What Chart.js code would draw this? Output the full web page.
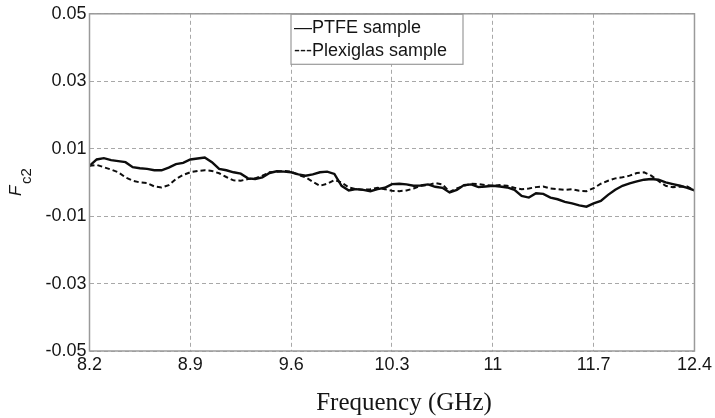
<!DOCTYPE html>
<html>
<head>
<meta charset="utf-8">
<script src="https://cdn.jsdelivr.net/npm/chart.js@4"></script>
<style>
  html, body { margin: 0; padding: 0; background: #fff; }
  #wrap { width: 715px; height: 418px; }
</style>
</head>
<body>
<div id="wrap"><canvas id="chartFc2"></canvas></div>
<script>
  'use strict';

  // frequency (GHz)
  var freq = [8.2, 8.25, 8.3, 8.35, 8.4, 8.45, 8.5, 8.55, 8.6, 8.65, 8.7, 8.75, 8.8, 8.85,
              8.9, 8.95, 9.0, 9.05, 9.1, 9.15, 9.2, 9.25, 9.3, 9.35, 9.4, 9.45, 9.5, 9.55,
              9.6, 9.65, 9.7, 9.75, 9.8, 9.85, 9.9, 9.95, 10.0, 10.05, 10.1, 10.15, 10.2,
              10.25, 10.3, 10.35, 10.4, 10.45, 10.5, 10.55, 10.6, 10.65, 10.7, 10.75, 10.8,
              10.85, 10.9, 10.95, 11.0, 11.05, 11.1, 11.15, 11.2, 11.25, 11.3, 11.35, 11.4,
              11.45, 11.5, 11.55, 11.6, 11.65, 11.7, 11.75, 11.8, 11.85, 11.9, 11.95, 12.0,
              12.05, 12.1, 12.15, 12.2, 12.25, 12.3, 12.35, 12.4];

  var ptfe = [0.0049, 0.0068, 0.0072, 0.0066, 0.0063, 0.0060, 0.0045, 0.0042, 0.0040,
              0.0036, 0.0036, 0.0044, 0.0054, 0.0058, 0.0068, 0.0071, 0.0074, 0.0060,
              0.0040, 0.0036, 0.0030, 0.0026, 0.0012, 0.0010, 0.0015, 0.0028, 0.0033,
              0.0032, 0.0030, 0.0024, 0.0020, 0.0024, 0.0030, 0.0032, 0.0025, -0.0010,
              -0.0024, -0.0020, -0.0022, -0.0026, -0.0020, -0.0016, -0.0005, -0.0004,
              -0.0006, -0.0010, -0.0009, -0.0006, -0.0013, -0.0016, -0.0030, -0.0022,
              -0.0008, -0.0006, -0.0014, -0.0012, -0.0010, -0.0012, -0.0015, -0.0022,
              -0.0040, -0.0045, -0.0032, -0.0034, -0.0045, -0.0050, -0.0058, -0.0062,
              -0.0068, -0.0072, -0.0062, -0.0055, -0.0037, -0.0022, -0.0010, -0.0003,
              0.0003, 0.0008, 0.0010, 0.0008, 0.0000, -0.0005, -0.0010, -0.0016, -0.0024];

  var plexiglas = [0.0049, 0.0052, 0.0045, 0.0038, 0.0030, 0.0015, 0.0005, 0.0000,
                   -0.0002, -0.0012, -0.0015, -0.0008, 0.0010, 0.0022, 0.0030, 0.0034,
                   0.0036, 0.0034, 0.0027, 0.0016, 0.0006, 0.0005, 0.0010, 0.0012, 0.0020,
                   0.0030, 0.0032, 0.0034, 0.0032, 0.0022, 0.0015, 0.0002, -0.0010,
                   -0.0004, 0.0007, 0.0000, -0.0015, -0.0020, -0.0022, -0.0020, -0.0016,
                   -0.0020, -0.0025, -0.0026, -0.0024, -0.0018, -0.0010, -0.0008, -0.0002,
                   -0.0006, -0.0028, -0.0018, -0.0010, -0.0004, -0.0005, -0.0008, -0.0010,
                   -0.0008, -0.0010, -0.0016, -0.0020, -0.0018, -0.0014, -0.0012, -0.0018,
                   -0.0020, -0.0022, -0.0020, -0.0025, -0.0026, -0.0017, -0.0004, 0.0005,
                   0.0012, 0.0015, 0.0020, 0.0028, 0.0030, 0.0020, 0.0004, -0.0010,
                   -0.0014, -0.0013, -0.0012, -0.0024];

  var xTicks = [8.2, 8.9, 9.6, 10.3, 11, 11.7, 12.4];
  var yTicks = [-0.05, -0.03, -0.01, 0.01, 0.03, 0.05];

  var seriesNames = ['PTFE sample', 'Plexiglas sample'];

  var colors = {
    line       : '#0d0d0d',
    grid       : '#a8a8a8',
    border     : '#9a9a9a',
    bodyColor  : '#151515'
  };
  var fontFamily = "'Liberation Sans', Arial, Helvetica, sans-serif";
  var serifFamily = "'Liberation Serif', 'Times New Roman', serif";

  function toPoints(ys) {
    return freq.map(function(f, i) { return { x: f, y: ys[i] }; });
  }

  function fmt(v) {
    return String(Math.round(v * 100) / 100);
  }

  // frame, legend box and axis titles
  var decor = {
    id: 'decor',
    afterDatasetsDraw: function(chart) {
      var ctx = chart.ctx, a = chart.chartArea;
      ctx.save();
      ctx.strokeStyle = colors.border;
      ctx.lineWidth = 1.5;
      ctx.setLineDash([]);
      ctx.strokeRect(a.left, a.top, a.right - a.left, a.bottom - a.top);

      // legend inside plot
      var lx = 291, ly = a.top + 0.5, lw = 172, lh = 50;
      ctx.fillStyle = '#fff';
      ctx.fillRect(lx, ly, lw, lh);
      ctx.lineWidth = 1.2;
      ctx.strokeRect(lx, ly, lw, lh);
      ctx.fillStyle = colors.bodyColor;
      ctx.font = '18px ' + fontFamily;
      ctx.textBaseline = 'middle';
      ctx.textAlign = 'left';
      ctx.fillText('\u2014' + seriesNames[0], lx + 3, ly + 14);
      ctx.fillText('---' + seriesNames[1], lx + 3, ly + 37);

      // x title
      ctx.font = '25px ' + serifFamily;
      ctx.textAlign = 'center';
      ctx.textBaseline = 'alphabetic';
      ctx.fillText('Frequency (GHz)', (a.left + a.right) / 2 + 12, 410);

      // y title F_c2
      ctx.translate(21, 196);
      ctx.rotate(-Math.PI / 2);
      ctx.textAlign = 'left';
      ctx.font = 'italic 17px ' + fontFamily;
      ctx.fillText('F', 0, 0);
      ctx.font = '15px ' + fontFamily;
      ctx.fillText('c2', 12, 10);
      ctx.restore();
    }
  };

  new Chart(document.getElementById('chartFc2'), {
    type: 'line',
    data: {
      datasets: [
        {
          label: seriesNames[0],
          data: toPoints(ptfe),
          borderColor: colors.line,
          borderWidth: 2.4,
          pointRadius: 0,
          tension: 0
        },
        {
          label: seriesNames[1],
          data: toPoints(plexiglas),
          borderColor: colors.line,
          borderWidth: 2,
          borderDash: [5, 3],
          pointRadius: 0,
          tension: 0
        }
      ]
    },
    options: {
      responsive: true,
      maintainAspectRatio: false,
      animation: false,
      layout: { padding: { top: 11, right: 20, left: 0, bottom: 0 } },
      plugins: {
        legend: { display: false },
        tooltip: { enabled: false }
      },
      scales: {
        x: {
          type: 'linear',
          min: 8.2,
          max: 12.4,
          afterBuildTicks: function(scale) {
            scale.ticks = xTicks.map(function(v) { return { value: v }; });
          },
          afterFit: function(scale) { scale.height = 67; },
          grid: {
            display: true,
            color: colors.grid,
            lineWidth: 1,
            drawTicks: false
          },
          border: { display: false, dash: [4, 3] },
          ticks: {
            color: colors.bodyColor,
            padding: 3,
            maxRotation: 0,
            autoSkip: false,
            font: { size: 18, family: fontFamily },
            callback: function(v) { return String(v); }
          }
        },
        y: {
          min: -0.05,
          max: 0.05,
          afterBuildTicks: function(scale) {
            scale.ticks = yTicks.map(function(v) { return { value: v }; });
          },
          afterFit: function(scale) { scale.width = 89.5; },
          grid: {
            display: true,
            color: colors.grid,
            lineWidth: 1,
            drawTicks: false
          },
          border: { display: false, dash: [4, 3] },
          ticks: {
            color: colors.bodyColor,
            padding: 3,
            autoSkip: false,
            font: { size: 18, family: fontFamily },
            callback: function(v) { return fmt(v); }
          }
        }
      }
    },
    plugins: [decor]
  });
</script>
</body>
</html>
